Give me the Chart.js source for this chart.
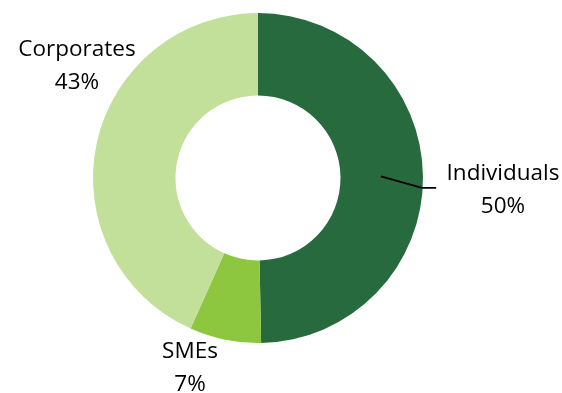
<!DOCTYPE html>
<html>
<head>
<meta charset="utf-8">
<script src="https://cdn.jsdelivr.net/npm/chart.js@4.4.0/dist/chart.umd.min.js"></script>
<style>
html,body{margin:0;padding:0;background:#fff;}
#wrap{width:562px;height:393px;position:relative;}
</style>
</head>
<body>
<div id="wrap"><canvas id="c" width="562" height="393"></canvas></div>
<script>
const categories = ["Individuals", "SMEs", "Corporates"];
const shares = [49.7, 7.0, 43.3];
const pctLabels = ["50%", "7%", "43%"];
const colors = ["#276A3E", "#8DC63F", "#C2E09A"];

const labelFont = "22.5px 'Open Sans', Lato, sans-serif";

const labelPlugin = {
  id: 'sliceLabels',
  afterDatasetsDraw(chart) {
    const ctx = chart.ctx;
    const meta = chart.getDatasetMeta(0);
    const arc0 = meta.data[0];
    const cx = arc0.x, cy = arc0.y, R = arc0.outerRadius;
    // label anchor offsets relative to chart centre, in units of outer radius
    const spots = [
      {dx: 1.485, dy: 0.076},
      {dx: -0.412, dy: 1.152},
      {dx: -1.097, dy: -0.676}
    ];
    ctx.save();
    ctx.font = labelFont;
    ctx.fillStyle = "#000";
    ctx.textAlign = "center";
    ctx.textBaseline = "middle";
    spots.forEach((s, i) => {
      const x = cx + s.dx * R, y = cy + s.dy * R;
      ctx.fillText(categories[i], x, y - 16.5);
      ctx.fillText(pctLabels[i], x, y + 16.5);
    });
    // leader line for Individuals
    ctx.strokeStyle = "#000";
    ctx.lineWidth = 1.8;
    ctx.beginPath();
    ctx.moveTo(cx + 0.745 * R, cy - 0.01 * R);
    ctx.lineTo(cx + 0.994 * R, cy + 0.06 * R);
    ctx.lineTo(cx + 1.08 * R, cy + 0.06 * R);
    ctx.stroke();
    ctx.restore();
  }
};

new Chart(document.getElementById('c'), {
  type: 'doughnut',
  data: {
    labels: categories,
    datasets: [{
      data: shares,
      backgroundColor: colors,
      borderWidth: 0
    }]
  },
  options: {
    responsive: false,
    animation: false,
    cutout: '50%',
    layout: {padding: {left: 93, right: 139, top: 13, bottom: 50}},
    plugins: {legend: {display: false}, tooltip: {enabled: false}}
  },
  plugins: [labelPlugin]
});
</script>
</body>
</html>
